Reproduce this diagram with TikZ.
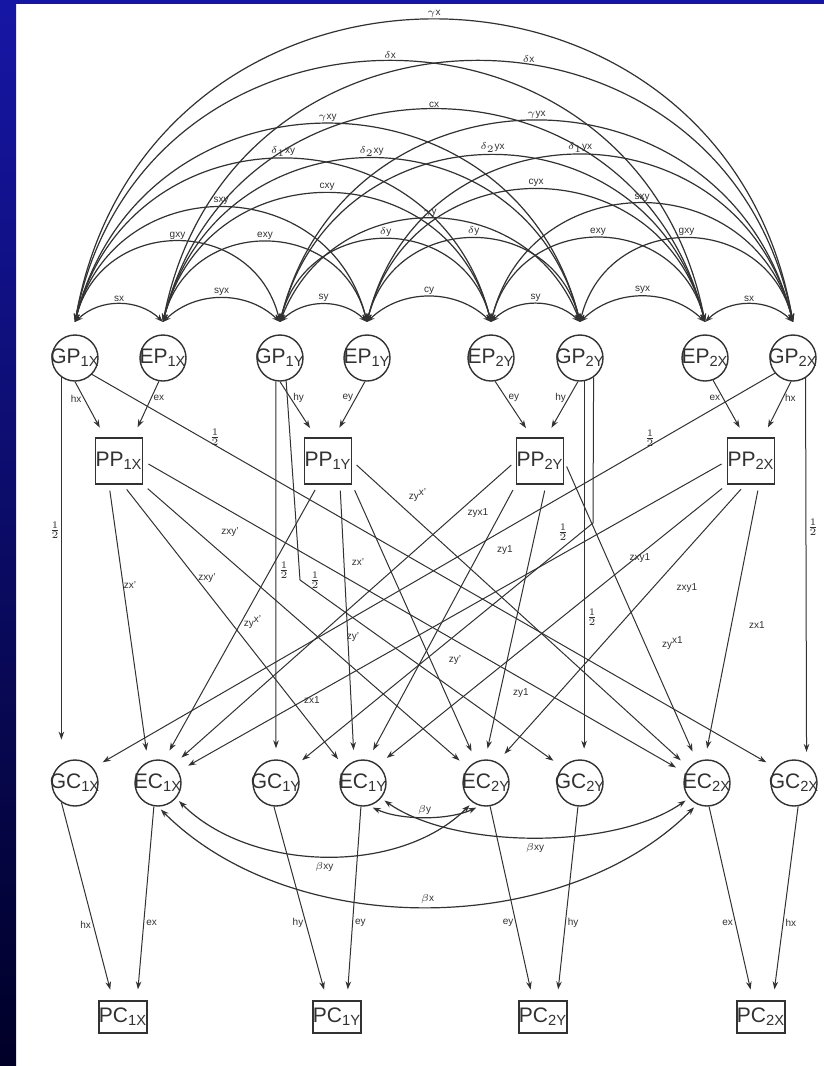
\documentclass[tikz,border=0pt]{standalone}
\usepackage{fontspec}
\setsansfont{Liberation Sans}
\usetikzlibrary{arrows.meta,calc}
\definecolor{slideblue}{RGB}{22,22,165}
\definecolor{slidenavy}{RGB}{0,0,40}
\definecolor{ink}{RGB}{50,50,50}

\begin{document}
\begin{tikzpicture}[x=0.5pt,y=0.5pt,font=\sffamily]
    \tikzset{latent/.style={circle, draw=ink, line width=0.7pt, minimum size=23pt,
      inner sep=-3pt, text=ink, font=\sffamily\fontsize{10.5}{12}\selectfont}}
    \tikzset{measured/.style={rectangle, draw=ink, line width=0.7pt, minimum width=22.5pt,
      minimum height=23pt, inner sep=0pt, text=ink, font=\sffamily\fontsize{10.5}{12}\selectfont}}
    \tikzset{causal/.style={-{Stealth[length=4pt,width=2.8pt]}, draw=ink, line width=0.5pt,
      shorten >=5.5pt}}
    \tikzset{covar/.style={{Stealth[length=4pt,width=2.8pt]}-{Stealth[length=4pt,width=2.8pt]},
      draw=ink, line width=0.6pt}}
    \tikzset{coef/.style={font=\sffamily\fontsize{5}{6}\selectfont, text=ink, inner sep=1pt}}
    \tikzset{halfc/.style={font=\fontsize{6}{6}\selectfont, text=ink, inner sep=0.5pt}}
    \tikzset{rk1/.style={out=44, in=136, looseness=1.0}}
    \tikzset{rk2/.style={out=76, in=104, looseness=1.38}}
    \tikzset{rky/.style={out=69, in=111, looseness=1.26}}
    \tikzset{rk6/.style={out=79, in=101, looseness=1.44}}
    \tikzset{rk7/.style={out=80, in=100, looseness=1.46}}

    % slide frame
    \useasboundingbox (0,0) rectangle (824,-1066);
    \fill[white] (0,0) rectangle (824,-1066);
    \shade[top color=slideblue, bottom color=slidenavy] (0,0) rectangle (16,-1066);
    \fill[slideblue] (0,0) rectangle (824,-4);

    % parents
    \node[latent] (GP1X) at (75,-358) {GP\textsubscript{1X}};
    \node[latent] (EP1X) at (163,-358) {EP\textsubscript{1X}};
    \node[latent] (GP1Y) at (280,-358) {GP\textsubscript{1Y}};
    \node[latent] (EP1Y) at (367,-358) {EP\textsubscript{1Y}};
    \node[latent] (EP2Y) at (491,-358) {EP\textsubscript{2Y}};
    \node[latent] (GP2Y) at (580,-358) {GP\textsubscript{2Y}};
    \node[latent] (EP2X) at (705,-358) {EP\textsubscript{2X}};
    \node[latent] (GP2X) at (793,-358) {GP\textsubscript{2X}};

    \node[measured] (PP1X) at (119,-461) {PP\textsubscript{1X}};
    \node[measured] (PP1Y) at (328,-461) {PP\textsubscript{1Y}};
    \node[measured] (PP2Y) at (540,-461) {PP\textsubscript{2Y}};
    \node[measured] (PP2X) at (751,-461) {PP\textsubscript{2X}};

    % children
    \node[latent] (GC1X) at (75,-783) {GC\textsubscript{1X}};
    \node[latent] (EC1X) at (158,-783) {EC\textsubscript{1X}};
    \node[latent] (GC1Y) at (276,-783) {GC\textsubscript{1Y}};
    \node[latent] (EC1Y) at (363,-783) {EC\textsubscript{1Y}};
    \node[latent] (EC2Y) at (486,-783) {EC\textsubscript{2Y}};
    \node[latent] (GC2Y) at (580,-783) {GC\textsubscript{2Y}};
    \node[latent] (EC2X) at (707,-783) {EC\textsubscript{2X}};
    \node[latent] (GC2X) at (794,-783) {GC\textsubscript{2X}};

    \node[measured, minimum height=16pt] (PC1X) at (123,-1017) {PC\textsubscript{1X}};
    \node[measured, minimum height=16pt] (PC1Y) at (337,-1017) {PC\textsubscript{1Y}};
    \node[measured, minimum height=16pt] (PC2Y) at (543,-1017) {PC\textsubscript{2Y}};
    \node[measured, minimum height=16pt] (PC2X) at (761,-1017) {PC\textsubscript{2X}};

    % arrow points above the parents
    \coordinate (tGP1X) at ([yshift=18pt]GP1X.center);
    \coordinate (tEP1X) at ([yshift=18pt]EP1X.center);
    \coordinate (tGP1Y) at ([yshift=18pt]GP1Y.center);
    \coordinate (tEP1Y) at ([yshift=18pt]EP1Y.center);
    \coordinate (tEP2Y) at ([yshift=18pt]EP2Y.center);
    \coordinate (tGP2Y) at ([yshift=18pt]GP2Y.center);
    \coordinate (tEP2X) at ([yshift=18pt]EP2X.center);
    \coordinate (tGP2X) at ([yshift=18pt]GP2X.center);

    % parental covariances
    \draw[covar] (tGP1X) to[rk1] node[coef,above] {sx} (tEP1X);
    \draw[covar] (tEP1X) to[rk1] node[coef,above] {syx} (tGP1Y);
    \draw[covar] (tGP1Y) to[rk1] node[coef,above] {sy} (tEP1Y);
    \draw[covar] (tEP1Y) to[rk1] node[coef,above] {cy} (tEP2Y);
    \draw[covar] (tEP2Y) to[rk1] node[coef,above] {sy} (tGP2Y);
    \draw[covar] (tGP2Y) to[rk1] node[coef,above] {syx} (tEP2X);
    \draw[covar] (tEP2X) to[rk1] node[coef,above] {sx} (tGP2X);

    \draw[covar] (tGP1X) to[rk2] node[coef,above] {gxy} (tGP1Y);
    \draw[covar] (tEP1X) to[rk2] node[coef,above] {exy} (tEP1Y);
    \draw[covar] (tGP1Y) to[rk2] node[coef,above] {$\delta$y} (tEP2Y);
    \draw[covar] (tEP1Y) to[rk2] node[coef,above] {$\delta$y} (tGP2Y);
    \draw[covar] (tEP2Y) to[rk2] node[coef,above] {exy} (tEP2X);
    \draw[covar] (tGP2Y) to[rk2] node[coef,above] {gxy} (tGP2X);

    \draw[covar] (tGP1X) to[rk2] node[coef,above] {sxy} (tEP1Y);
    \draw[covar] (tEP1X) to[rk2] node[coef,above] {cxy} (tEP2Y);
    \draw[covar] (tGP1Y) to[rky] node[coef,above] {$\gamma$y} (tGP2Y);
    \draw[covar] (tEP1Y) to[rk2] node[coef,above] {cyx} (tEP2X);
    \draw[covar] (tEP2Y) to[rk2] node[coef,above] {sxy} (tGP2X);

    \draw[covar] (tGP1X) to[rk2] node[coef,above] {$\delta_1$xy} (tEP2Y);
    \draw[covar] (tEP1X) to[rk2] node[coef,above] {$\delta_2$xy} (tGP2Y);
    \draw[covar] (tGP1Y) to[rk2] node[coef,above] {$\delta_2$yx} (tEP2X);
    \draw[covar] (tEP1Y) to[rk2] node[coef,above] {$\delta_1$yx} (tGP2X);

    \draw[covar] (tGP1X) to[rk2] node[coef,above] {$\gamma$xy} (tGP2Y);
    \draw[covar] (tEP1X) to[rk2] node[coef,above] {cx} (tEP2X);
    \draw[covar] (tGP1Y) to[rk2] node[coef,above] {$\gamma$yx} (tGP2X);

    \draw[covar] (tGP1X) to[rk6] node[coef,above] {$\delta$x} (tEP2X);
    \draw[covar] (tEP1X) to[rk6] node[coef,above,pos=0.56] {$\delta$x} (tGP2X);

    \draw[covar] (tGP1X) to[rk7] node[coef,above] {$\gamma$x} (tGP2X);

    % parental phenotypes
    \draw[causal] (GP1X.south) -- node[coef,left,pos=0.3] {hx} ([xshift=-7pt]PP1X.north);
    \draw[causal] (EP1X.260) -- node[coef,right,pos=0.3] {ex} ([xshift=7pt]PP1X.north);
    \draw[causal] (GP1Y.south) -- node[coef,right,pos=0.3] {hy} ([xshift=-6pt]PP1Y.north);
    \draw[causal] (EP1Y.265) -- node[coef,left,pos=0.3] {ey} ([xshift=3pt]PP1Y.north);
    \draw[causal] (EP2Y.280) -- node[coef,right,pos=0.3] {ey} ([xshift=-4pt]PP2Y.north);
    \draw[causal] (GP2Y.265) -- node[coef,left,pos=0.3] {hy} ([xshift=3pt]PP2Y.north);
    \draw[causal] (EP2X.290) -- node[coef,left,pos=0.3] {ex} ([xshift=-3pt]PP2X.north);
    \draw[causal] (GP2X.265) -- node[coef,right,pos=0.3] {hx} ([xshift=6pt]PP2X.north);

    % genetic transmission
    \coordinate (bendL) at (300,-580);
    \coordinate (bendR) at (593,-523);
    \draw[causal, shorten >=12pt] (GP1X.235) -- (GC1X.125);
    \draw[causal] (GP1X.-44) -- (GC2X.140);
    \draw[causal] (GP1Y.260) -- (GC1Y.north);
    \draw[causal] (GP1Y.285) -- (bendL) -- (GC2Y.138);
    \draw[causal] (GP2Y.280) -- (GC2Y.80);
    \draw[causal] (GP2Y.305) -- (bendR) -- (GC1Y.42);
    \draw[causal] (GP2X.220) -- (GC1X.40);
    \draw[causal] (GP2X.302) -- (GC2X.58);

    \node[halfc] (hA) at (55,-530) {$\frac{1}{2}$};
    \node[halfc] (hB) at (215,-437) {$\frac{1}{2}$};
    \node[halfc] (hC) at (284,-570) {$\frac{1}{2}$};
    \node[halfc] (hD) at (315,-580) {$\frac{1}{2}$};
    \node[halfc] (hE) at (563,-532) {$\frac{1}{2}$};
    \node[halfc] (hF) at (592,-617) {$\frac{1}{2}$};
    \node[halfc] (hG) at (650,-438) {$\frac{1}{2}$};
    \node[halfc] (hH) at (813,-527) {$\frac{1}{2}$};

    % cultural transmission
    \draw[causal, shorten <=3pt] ([xshift=-5pt]PP1X.south) -- (EC1X.115);
    \draw[causal, shorten <=3pt] ([xshift=2pt]PP1X.south) -- (EC1Y.140);
    \draw[causal, shorten <=3pt] (PP1X.south east) -- (EC2Y.140);
    \draw[causal, shorten <=3pt] (PP1X.east) -- (EC2X.155);

    \draw[causal, shorten <=3pt] ([xshift=-5pt]PP1Y.south) -- (EC1X.75);
    \draw[causal, shorten <=3pt] ([xshift=6pt]PP1Y.south) -- (EC1Y.112);
    \draw[causal, shorten <=3pt] (PP1Y.south east) -- (EC2Y.115);
    \draw[causal, shorten <=3pt] (PP1Y.east) -- (EC2X.140);

    \draw[causal, shorten <=3pt] (PP2Y.west) -- (EC1X.50);
    \draw[causal, shorten <=3pt] (PP2Y.south west) -- (EC1Y.78);
    \draw[causal, shorten <=3pt] ([xshift=3pt]PP2Y.south) -- (EC2Y.92);
    \draw[causal, shorten <=3pt] (PP2Y.east) -- (EC2X.115);

    \draw[causal, shorten <=3pt] (PP2X.west) -- (EC1X.30);
    \draw[causal, shorten <=3pt] (PP2X.south west) -- (EC1Y.50);
    \draw[causal, shorten <=3pt] ([xshift=-3pt]PP2X.south) -- (EC2Y.62);
    \draw[causal, shorten <=3pt] ([xshift=4pt]PP2X.south) -- (EC2X.95);

    \node[coef] (zA) at (130,-585) {zx'};
    \node[coef] (zB) at (207,-578) {zxy'};
    \node[coef] (zC) at (230,-532) {zxy'};
    \node[coef] (zD) at (358,-562) {zx'};
    \node[coef] (zE) at (253,-622) {zy\textsuperscript{x'}};
    \node[coef] (zF) at (353,-637) {zy'};
    \node[coef] (zG) at (455,-660) {zy'};
    \node[coef] (zH) at (418,-495) {zy\textsuperscript{x'}};
    \node[coef] (zI) at (478,-513) {zyx1};
    \node[coef] (zJ) at (505,-550) {zy1};
    \node[coef] (zK) at (521,-693) {zy1};
    \node[coef] (zL) at (673,-643) {zy\textsuperscript{x1}};
    \node[coef] (zM) at (312,-700) {zx1};
    \node[coef] (zN) at (640,-558) {zxy1};
    \node[coef] (zO) at (687,-588) {zxy1};
    \node[coef] (zP) at (757,-625) {zx1};

    % sibling environments
    \draw[covar, shorten <=2pt, shorten >=2pt] (EC1Y.-75) to[out=-25, in=-155, looseness=0.8]
      node[coef,above] {$\beta$y} (EC2Y.-105);
    \draw[covar, shorten <=2pt, shorten >=2pt] (EC1X.-40) to[out=-45, in=-135, looseness=0.9]
      node[coef,below=2pt] {$\beta$xy} (EC2Y.-125);
    \draw[covar, shorten <=2pt, shorten >=2pt] (EC1Y.-40) to[out=-35, in=-145, looseness=0.75]
      node[coef,below=2pt] {$\beta$xy} (EC2X.-140);
    \draw[covar, shorten <=2pt, shorten >=2pt] (EC1X.-90) to[out=-45, in=-135, looseness=0.9]
      node[coef,above] {$\beta$x} (EC2X.-115);

    % child phenotypes
    \draw[causal] (GC1X.235) -- node[coef,left,pos=0.62] {hx} ([xshift=-5pt]PC1X.north);
    \draw[causal] (EC1X.260) -- node[coef,right,pos=0.6] {ex} ([xshift=7pt]PC1X.north);
    \draw[causal] (GC1Y.265) -- node[coef,left,pos=0.6] {hy} ([xshift=-5pt]PC1Y.north);
    \draw[causal] (EC1Y.265) -- node[coef,right,pos=0.6] {ey} ([xshift=5pt]PC1Y.north);
    \draw[causal] (EC2Y.280) -- node[coef,left,pos=0.6] {ey} ([xshift=-5pt]PC2Y.north);
    \draw[causal] (GC2Y.265) -- node[coef,right,pos=0.6] {hy} ([xshift=7pt]PC2Y.north);
    \draw[causal] (EC2X.275) -- node[coef,left,pos=0.6] {ex} ([xshift=-4pt]PC2X.north);
    \draw[causal] (GC2X.280) -- node[coef,right,pos=0.6] {hx} ([xshift=6pt]PC2X.north);
\end{tikzpicture}
\end{document}
